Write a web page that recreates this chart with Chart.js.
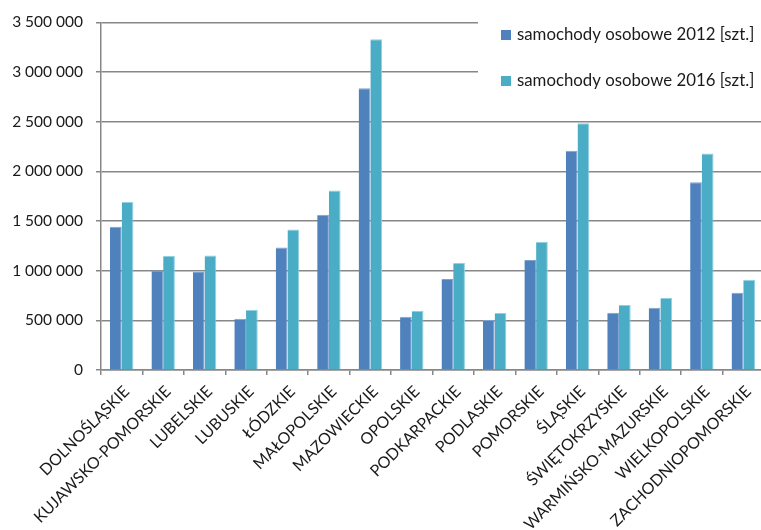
<!DOCTYPE html>
<html lang="pl">
<head>
<meta charset="utf-8">
<title>Samochody osobowe wg województw</title>
<script src="https://cdn.jsdelivr.net/npm/chart.js@4/dist/chart.umd.min.js"></script>
<style>
  html, body { margin: 0; padding: 0; overflow: hidden; background: #fff; }
  #wrap { position: relative; width: 766px; height: 530px; }
</style>
</head>
<body>
<div id="wrap"><canvas id="chart" width="766" height="530"></canvas></div>
<script>
// Województwa
const categories = [
  'DOLNOŚLĄSKIE', 'KUJAWSKO-POMORSKIE', 'LUBELSKIE', 'LUBUSKIE', 'ŁÓDZKIE',
  'MAŁOPOLSKIE', 'MAZOWIECKIE', 'OPOLSKIE', 'PODKARPACKIE', 'PODLASKIE',
  'POMORSKIE', 'ŚLĄSKIE', 'ŚWIĘTOKRZYSKIE', 'WARMIŃSKO-MAZURSKIE',
  'WIELKOPOLSKIE', 'ZACHODNIOPOMORSKIE'
];

// Liczba samochodów osobowych [szt.]
const cars2012 = [
  1442000, 1002000, 986000, 516000, 1233000, 1562000, 2837000, 536000,
  915000, 503000, 1107000, 2206000, 576000, 627000, 1891000, 778000
];
const cars2016 = [
  1690000, 1147000, 1153000, 604000, 1415000, 1807000, 3330000, 597000,
  1076000, 573000, 1291000, 2485000, 654000, 724000, 2179000, 908000
];

const seriesLabels = ['samochody osobowe 2012 [szt.]', 'samochody osobowe 2016 [szt.]'];

// Oś Y: 0 – 3 500 000 co 500 000
const yMin = 0;
const yMax = 3500000;
const yStep = 500000;

const FONT = 'Lato, "Open Sans", "Liberation Sans", sans-serif';
const TEXT = '#1a1a1a';
const GRID = '#878787';

function groupDigits(v) {
  return String(v).replace(/\B(?=(\d{3})+(?!\d))/g, ' ');
}

// Legenda w prawym górnym rogu, na białym tle nad obszarem wykresu
const boxLegend = {
  id: 'boxLegend',
  afterDraw(chart) {
    const ctx = chart.ctx;
    ctx.save();
    ctx.fillStyle = '#fff';
    ctx.fillRect(478, 0, chart.width - 478, 108);
    ctx.font = '16.8px ' + FONT;
    ctx.textBaseline = 'middle';
    ctx.textAlign = 'left';
    chart.data.datasets.forEach((ds, i) => {
      const cy = 35 + i * 46;
      ctx.fillStyle = ds.backgroundColor;
      ctx.fillRect(501, cy - 5, 10, 10);
      ctx.fillStyle = TEXT;
      ctx.fillText(ds.label, 517, cy);
    });
    ctx.restore();
  }
};

new Chart(document.getElementById('chart'), {
  type: 'bar',
  data: {
    labels: categories,
    datasets: [
      {
        label: seriesLabels[0],
        data: cars2012,
        backgroundColor: '#4f81bd',
        borderColor: '#7ea2d0',
        borderWidth: { top: 1, right: 1, left: 0, bottom: 0 },
        barPercentage: 1,
        categoryPercentage: 0.565
      },
      {
        label: seriesLabels[1],
        data: cars2016,
        backgroundColor: '#4bacc6',
        borderColor: '#8fd0e2',
        borderWidth: { top: 1, right: 1, left: 0, bottom: 0 },
        barPercentage: 1,
        categoryPercentage: 0.565
      }
    ]
  },
  options: {
    responsive: false,
    animation: false,
    devicePixelRatio: 1,
    layout: { padding: { left: 0, right: 2, top: 0, bottom: 0 } },
    plugins: {
      legend: { display: false },
      tooltip: { enabled: false }
    },
    scales: {
      x: {
        grid: {
          offset: true,
          drawOnChartArea: false,
          drawTicks: true,
          tickLength: 5,
          color: GRID,
          lineWidth: 1.5
        },
        border: { color: GRID, width: 1.5 },
        ticks: {
          autoSkip: false,
          maxRotation: 45,
          minRotation: 45,
          padding: 7,
          labelOffset: 5,
          color: TEXT,
          font: { family: FONT, size: 16 }
        },
        afterFit(scale) { scale.height = 160; }
      },
      y: {
        min: yMin,
        max: yMax,
        ticks: {
          stepSize: yStep,
          padding: 13,
          color: TEXT,
          font: { family: FONT, size: 15.5 },
          callback: (v) => groupDigits(v)
        },
        grid: {
          color: GRID,
          lineWidth: 1.5,
          tickLength: 5,
          drawTicks: true
        },
        border: { color: GRID, width: 1.5 },
        afterFit(scale) { scale.width = 101; }
      }
    }
  },
  plugins: [boxLegend]
});
</script>
</body>
</html>
